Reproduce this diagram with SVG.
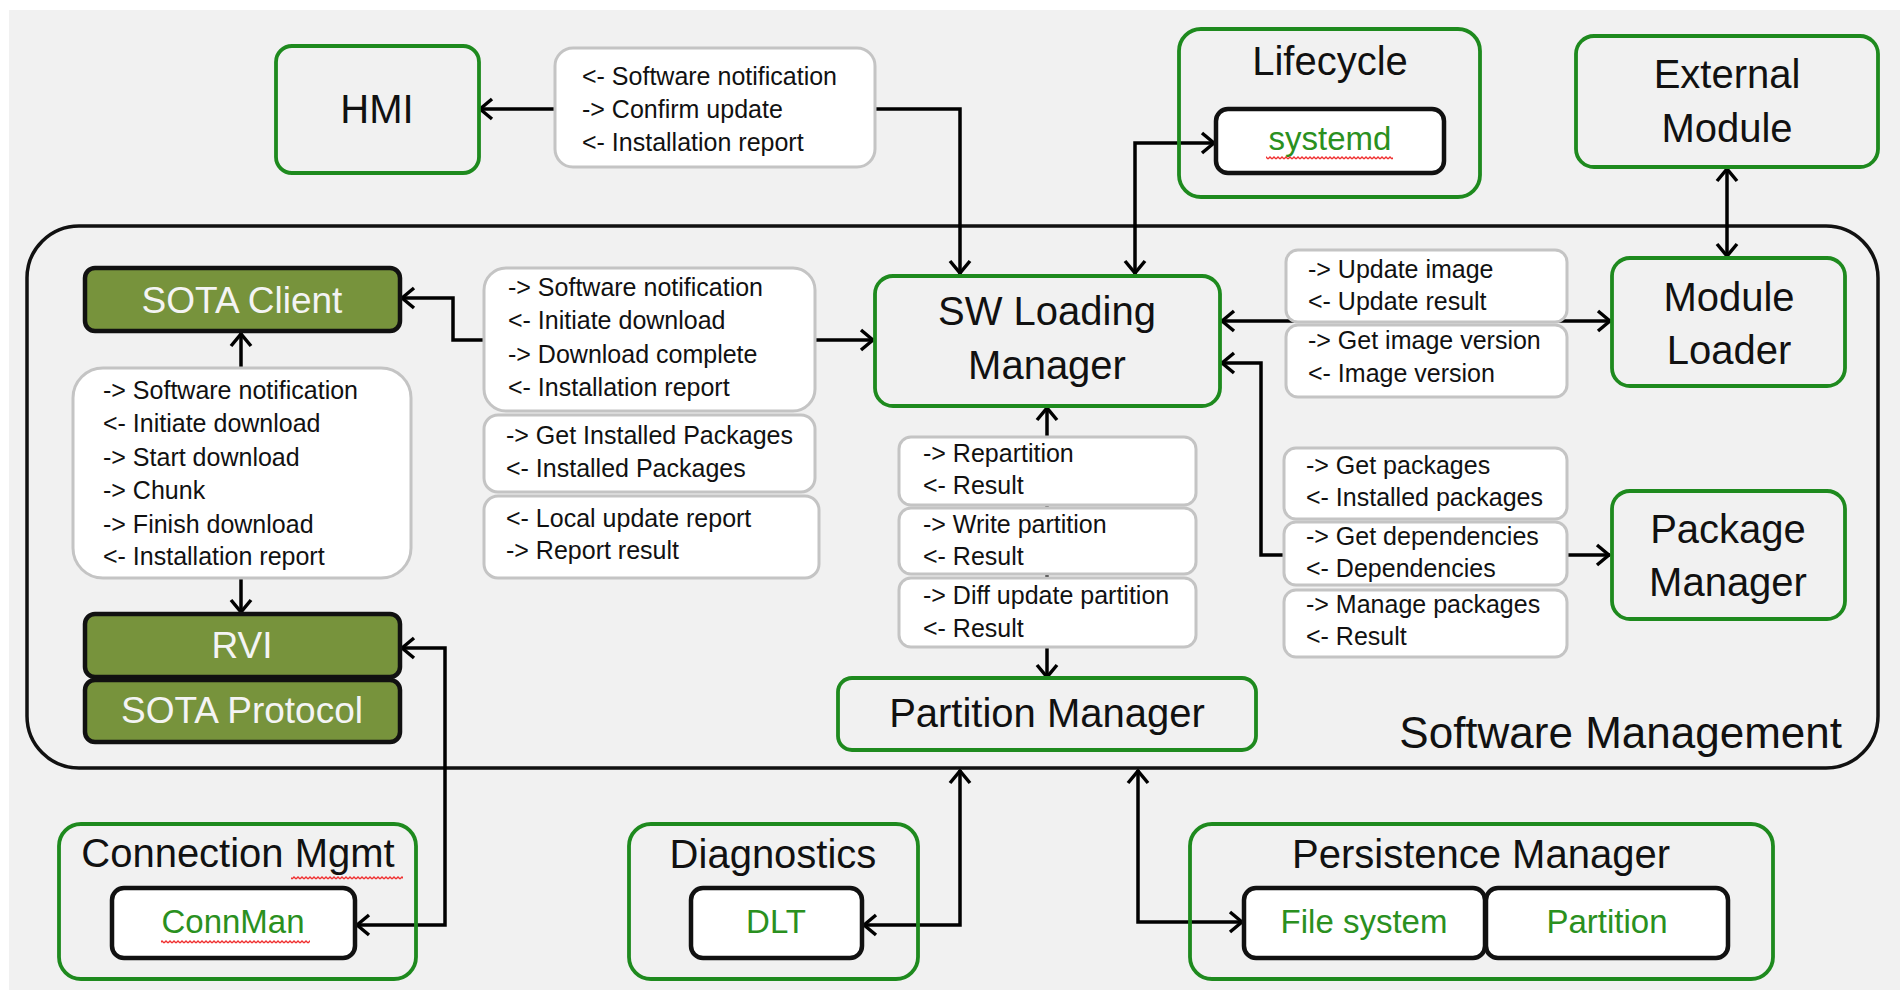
<svg xmlns="http://www.w3.org/2000/svg" width="1900" height="990" viewBox="0 0 1900 990">
<style>
text{font-family:"Liberation Sans",Arial,sans-serif;fill:#111}
.t{font-size:40px;text-anchor:middle}
.s{font-size:33px;text-anchor:middle;fill:#2a9020}
.w{font-size:37px;text-anchor:middle;fill:#f4f4f4}
.m{font-size:25px}
.g{fill:none;stroke:#1e8a1e;stroke-width:3.8}
.k{fill:#fff;stroke:#111;stroke-width:4.5}
.o{fill:#77933c;stroke:#111;stroke-width:4.5}
.b{fill:#fff;stroke:#c4c4c4;stroke-width:3}
.c{fill:none;stroke:#000;stroke-width:3.5;marker-start:url(#a);marker-end:url(#a)}
</style>
<defs>
<marker id="a" viewBox="0 0 16 24" refX="15" refY="12" markerWidth="16" markerHeight="24" markerUnits="userSpaceOnUse" orient="auto-start-reverse">
<path d="M2,2 L14,12 L2,22" fill="none" stroke="#000" stroke-width="3.5"/>
</marker>
<pattern id="wv" width="4" height="4" patternUnits="userSpaceOnUse">
<path d="M0,3 L2,1 L4,3" fill="none" stroke="#f03030" stroke-width="1.3"/>
</pattern>
</defs>
<rect x="9" y="10" width="1891" height="980" fill="#f1f1f1"/>
<g id="software-management">
<rect x="27" y="226" width="1851" height="542" rx="52" fill="none" stroke="#111" stroke-width="3.5"/>
<text x="1842" y="748" style="font-size:44px;text-anchor:end">Software Management</text>
</g>
<g id="connectors">
<path class="c" d="M479,109 H960 V274"/>
<path class="c" d="M1215,143 H1135 V274"/>
<path class="c" d="M1727,168 V257"/>
<path class="c" d="M1221,321 H1611"/>
<path class="c" d="M1221,363 H1261 V555 H1610"/>
<path class="c" d="M1047,407 V678"/>
<path class="c" d="M401,298 H453 V340 H874"/>
<path class="c" d="M241,333 V613"/>
<path class="c" d="M401,648 H445 V925 H356"/>
<path class="c" d="M863,925 H960 V770"/>
<path class="c" d="M1138,770 V922 H1243"/>
</g>
<g id="hmi">
<rect class="g" x="276" y="46" width="203" height="127" rx="16"/>
<text class="t" x="377" y="123">HMI</text>
</g>
<g id="hmi-messages">
<rect class="b" x="555" y="48" width="320" height="119" rx="18"/>
<text class="m" x="582" y="85">&lt;- Software notification</text>
<text class="m" x="582" y="118">-&gt; Confirm update</text>
<text class="m" x="582" y="151">&lt;- Installation report</text>
</g>
<g id="lifecycle">
<rect class="g" x="1179" y="29" width="301" height="168" rx="22"/>
<text class="t" x="1330" y="75">Lifecycle</text>
</g>
<g id="systemd">
<rect class="k" x="1216" y="109" width="228" height="64" rx="12"/>
<text class="s" x="1330" y="150">systemd</text>
<rect x="1266" y="156" width="127" height="4" fill="url(#wv)"/>
</g>
<g id="external-module">
<rect class="g" x="1576" y="36" width="302" height="131" rx="18"/>
<text class="t" x="1727" y="88">External</text>
<text class="t" x="1727" y="142">Module</text>
</g>
<g id="module-loader">
<rect class="g" x="1612" y="258" width="233" height="128" rx="18"/>
<text class="t" x="1729" y="311">Module</text>
<text class="t" x="1729" y="364">Loader</text>
</g>
<g id="sw-loading-manager">
<rect class="g" x="875" y="276" width="345" height="130" rx="18"/>
<text class="t" x="1047" y="325">SW Loading</text>
<text class="t" x="1047" y="379">Manager</text>
</g>
<g id="module-loader-messages">
<rect class="b" x="1286" y="250" width="281" height="72" rx="12"/>
<text class="m" x="1308" y="278">-&gt; Update image</text>
<text class="m" x="1308" y="310">&lt;- Update result</text>
<rect class="b" x="1286" y="325" width="281" height="72" rx="12"/>
<text class="m" x="1308" y="349">-&gt; Get image version</text>
<text class="m" x="1308" y="382">&lt;- Image version</text>
</g>
<g id="package-manager">
<rect class="g" x="1612" y="491" width="233" height="128" rx="18"/>
<text class="t" x="1728" y="543">Package</text>
<text class="t" x="1728" y="596">Manager</text>
</g>
<g id="package-manager-messages">
<rect class="b" x="1284" y="448" width="283" height="71" rx="12"/>
<text class="m" x="1306" y="474">-&gt; Get packages</text>
<text class="m" x="1306" y="506">&lt;- Installed packages</text>
<rect class="b" x="1284" y="522" width="283" height="63" rx="12"/>
<text class="m" x="1306" y="545">-&gt; Get dependencies</text>
<text class="m" x="1306" y="577">&lt;- Dependencies</text>
<rect class="b" x="1284" y="590" width="283" height="67" rx="12"/>
<text class="m" x="1306" y="613">-&gt; Manage packages</text>
<text class="m" x="1306" y="645">&lt;- Result</text>
</g>
<g id="partition-messages">
<rect class="b" x="899" y="437" width="297" height="68" rx="12"/>
<text class="m" x="923" y="462">-&gt; Repartition</text>
<text class="m" x="923" y="494">&lt;- Result</text>
<rect class="b" x="899" y="508" width="297" height="66" rx="12"/>
<text class="m" x="923" y="533">-&gt; Write partition</text>
<text class="m" x="923" y="565">&lt;- Result</text>
<rect class="b" x="899" y="578" width="297" height="69" rx="12"/>
<text class="m" x="923" y="604">-&gt; Diff update partition</text>
<text class="m" x="923" y="637">&lt;- Result</text>
</g>
<g id="partition-manager">
<rect class="g" x="838" y="678" width="418" height="72" rx="14"/>
<text class="t" x="1047" y="727">Partition Manager</text>
</g>
<g id="sota-client">
<rect class="o" x="85" y="268" width="315" height="63" rx="10"/>
<text class="w" x="242" y="313">SOTA Client</text>
</g>
<g id="sota-client-messages">
<rect class="b" x="484" y="268" width="331" height="143" rx="22"/>
<text class="m" x="508" y="296">-&gt; Software notification</text>
<text class="m" x="508" y="329">&lt;- Initiate download</text>
<text class="m" x="508" y="363">-&gt; Download complete</text>
<text class="m" x="508" y="396">&lt;- Installation report</text>
<rect class="b" x="484" y="415" width="331" height="77" rx="14"/>
<text class="m" x="506" y="444">-&gt; Get Installed Packages</text>
<text class="m" x="506" y="477">&lt;- Installed Packages</text>
<rect class="b" x="484" y="496" width="335" height="82" rx="14"/>
<text class="m" x="506" y="527">&lt;- Local update report</text>
<text class="m" x="506" y="559">-&gt; Report result</text>
</g>
<g id="rvi-messages">
<rect class="b" x="73" y="368" width="338" height="210" rx="30"/>
<text class="m" x="103" y="399">-&gt; Software notification</text>
<text class="m" x="103" y="432">&lt;- Initiate download</text>
<text class="m" x="103" y="466">-&gt; Start download</text>
<text class="m" x="103" y="499">-&gt; Chunk</text>
<text class="m" x="103" y="533">-&gt; Finish download</text>
<text class="m" x="103" y="565">&lt;- Installation report</text>
</g>
<g id="rvi">
<rect class="o" x="85" y="614" width="315" height="63" rx="10"/>
<text class="w" x="242" y="658">RVI</text>
</g>
<g id="sota-protocol">
<rect class="o" x="85" y="680" width="315" height="62" rx="10"/>
<text class="w" x="242" y="723">SOTA Protocol</text>
</g>
<g id="connection-mgmt">
<rect class="g" x="59" y="824" width="357" height="155" rx="22"/>
<text class="t" x="238" y="867">Connection Mgmt</text>
<rect x="291" y="876" width="112" height="4" fill="url(#wv)"/>
</g>
<g id="connman">
<rect class="k" x="112" y="888" width="243" height="70" rx="12"/>
<text class="s" x="233" y="933">ConnMan</text>
<rect x="161" y="940" width="149" height="4" fill="url(#wv)"/>
</g>
<g id="diagnostics">
<rect class="g" x="629" y="824" width="289" height="155" rx="22"/>
<text class="t" x="773" y="868">Diagnostics</text>
</g>
<g id="dlt">
<rect class="k" x="691" y="888" width="171" height="70" rx="12"/>
<text class="s" x="776" y="933">DLT</text>
</g>
<g id="persistence-manager">
<rect class="g" x="1190" y="824" width="583" height="155" rx="22"/>
<text class="t" x="1481" y="868">Persistence Manager</text>
</g>
<g id="file-system">
<rect class="k" x="1244" y="888" width="241" height="70" rx="12"/>
<text class="s" x="1364" y="933">File system</text>
</g>
<g id="partition">
<rect class="k" x="1486" y="888" width="242" height="70" rx="12"/>
<text class="s" x="1607" y="933">Partition</text>
</g>
</svg>
